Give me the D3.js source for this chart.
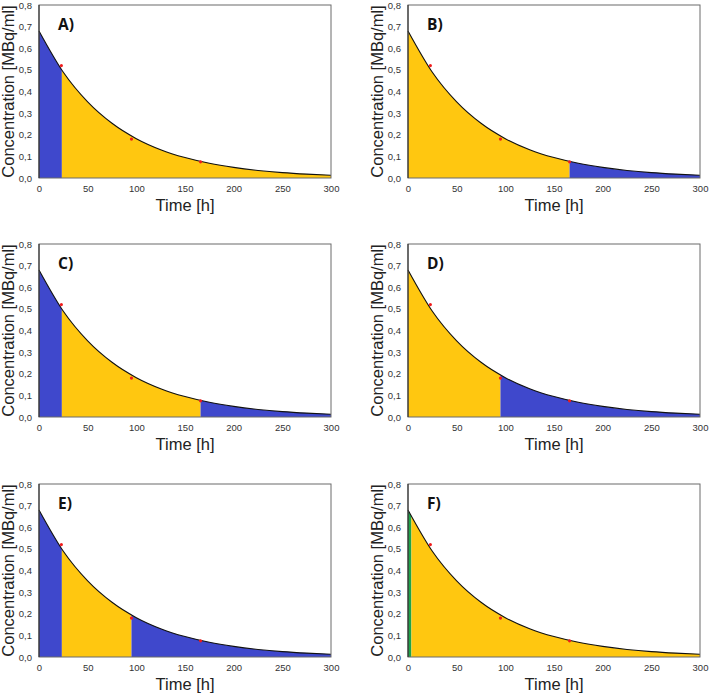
<!DOCTYPE html>
<html>
<head>
<meta charset="utf-8">
<script src="https://cdn.jsdelivr.net/npm/d3@7"></script>
<style>
  body { margin: 0; background: #fff; }
  svg { display: block; }
</style>
</head>
<body>
<script>
// fitted curve
let curveT = [0, 25, 50, 75, 100, 125, 150, 175, 200, 225, 250, 275, 300]
let curveC = [0.68, 0.489, 0.352, 0.253, 0.182, 0.131, 0.0945, 0.068, 0.049, 0.035, 0.025, 0.018, 0.013]

// measured points
let pointT = [23, 95, 166]
let pointC = [0.52, 0.18, 0.075]

let panelLabels = ['A)', 'B)', 'C)', 'D)', 'E)', 'F)']
let panelSplits = [[0, 23.5, 300], [0, 166, 300], [0, 23.5, 166, 300], [0, 95, 300], [0, 23.5, 95, 300], [0, 3.5, 300]]
let panelFills = [['blue', 'yellow'], ['yellow', 'blue'], ['blue', 'yellow', 'blue'], ['yellow', 'blue'], ['blue', 'yellow', 'blue'], ['green', 'yellow']]

let xTicks = [0, 50, 100, 150, 200, 250, 300]
let yTicks = [0, 0.1, 0.2, 0.3, 0.4, 0.5, 0.6, 0.7, 0.8]

let colors = { blue: '#3f48cc', yellow: '#ffc710', green: '#1fa34a' }

let width = 709, height = 695
let pw = 292, ph = 173
let origins = [[39, 5], [408, 5], [39, 244], [408, 244], [39, 484], [408, 484]]

const svg = d3.select('body').append('svg')
    .attr('width', width)
    .attr('height', height)
    .attr('viewBox', [0, 0, width, height])

let x = d3.scaleLinear().domain([0, 300]).range([0, pw])
let y = d3.scaleLinear().domain([0, 0.8]).range([ph, 0])

let curveData = curveT.map((t, i) => ({ t, c: curveC[i] }))
let pointData = pointT.map((t, i) => ({ t, c: pointC[i] }))

let area = d3.area()
    .x(d => x(d.t))
    .y0(y(0))
    .y1(d => y(d.c))
    .curve(d3.curveMonotoneX)

let line = d3.line()
    .x(d => x(d.t))
    .y(d => y(d.c))
    .curve(d3.curveMonotoneX)

let fmt = v => d3.format('.1f')(v).replace('.', ',')

panelLabels.forEach((label, p) => {
  let [ox, oy] = origins[p]
  let g = svg.append('g').attr('transform', `translate(${ox},${oy})`)

  // coloured segments under the curve
  let splits = panelSplits[p]
  panelFills[p].forEach((f, i) => {
    let id = `clip-${p}-${i}`
    g.append('clipPath').attr('id', id)
      .append('rect')
        .attr('x', x(splits[i]))
        .attr('y', 0)
        .attr('width', x(splits[i + 1]) - x(splits[i]))
        .attr('height', ph)
    g.append('path')
      .datum(curveData)
      .attr('clip-path', `url(#${id})`)
      .attr('fill', colors[f])
      .attr('d', area)
  })

  g.append('path')
    .datum(curveData)
    .attr('fill', 'none')
    .attr('stroke', '#111')
    .attr('stroke-width', 1.1)
    .attr('d', line)

  g.selectAll('circle')
    .data(pointData)
    .join('circle')
      .attr('cx', d => x(d.t))
      .attr('cy', d => y(d.c))
      .attr('r', 1.6)
      .attr('fill', '#f01c1c')

  // frame
  g.append('rect')
    .attr('x', 0).attr('y', 0)
    .attr('width', pw).attr('height', ph)
    .attr('fill', 'none')
    .attr('stroke', '#6b6b6b')
    .attr('stroke-width', 1)
  g.append('line')
    .attr('x1', 0).attr('x2', 0).attr('y1', 0).attr('y2', ph)
    .attr('stroke', '#222')

  // axes
  let xAxis = g.append('g')
      .attr('transform', `translate(0,${ph})`)
      .call(d3.axisBottom(x).tickValues(xTicks).tickSize(0).tickPadding(7))
  xAxis.select('.domain').remove()
  xAxis.selectAll('text')
      .attr('font-family', 'Liberation Sans, Arial, sans-serif')
      .attr('font-size', 9.5)
      .attr('fill', '#333')

  let yAxis = g.append('g')
      .call(d3.axisLeft(y).tickValues(yTicks).tickFormat(fmt).tickSize(0).tickPadding(7))
  yAxis.select('.domain').remove()
  yAxis.selectAll('text')
      .attr('font-family', 'Liberation Sans, Arial, sans-serif')
      .attr('font-size', 9.5)
      .attr('fill', '#333')

  g.append('text')
    .text('Time [h]')
    .attr('x', pw / 2)
    .attr('y', ph + 33)
    .attr('text-anchor', 'middle')
    .attr('font-family', 'Liberation Sans, Arial, sans-serif')
    .attr('font-size', 16.5)
    .attr('fill', '#222')

  g.append('text')
    .text('Concentration [MBq/ml]')
    .attr('transform', `translate(-25,${ph / 2}) rotate(-90)`)
    .attr('text-anchor', 'middle')
    .attr('font-family', 'Liberation Sans, Arial, sans-serif')
    .attr('font-size', 16.5)
    .attr('fill', '#222')

  g.append('text')
    .text(label)
    .attr('x', 19)
    .attr('y', 25)
    .attr('font-family', 'Open Sans, Liberation Sans, sans-serif')
    .attr('font-weight', 'bold')
    .attr('font-size', 15.5)
    .attr('fill', '#111')
})
</script>
</body>
</html>
